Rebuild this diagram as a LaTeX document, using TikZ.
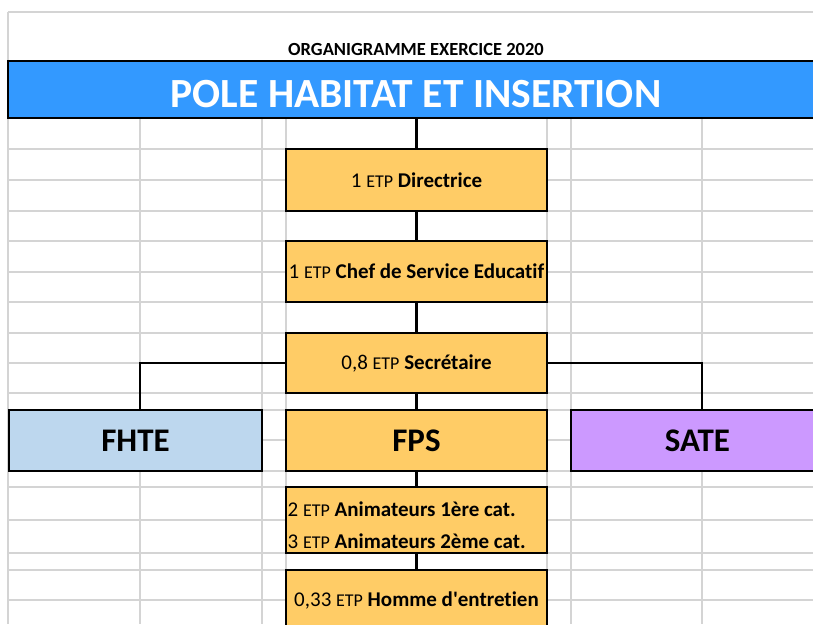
\documentclass[tikz,border=0pt]{standalone}
\usepackage{fontspec}
\setmainfont{Carlito}[Ligatures={NoCommon,TeXOff}]
\usepackage{tikz}
\definecolor{bleupole}{HTML}{3399FF}
\definecolor{jaune}{HTML}{FFCC66}
\definecolor{bleuclair}{HTML}{BDD7EE}
\definecolor{mauve}{HTML}{CC99FF}
\definecolor{gris}{HTML}{D4D4D4}
\newcommand{\etp}[1]{#1 {\fontsize{18}{21}\selectfont ETP}}

\begin{document}
\begin{tikzpicture}[x=1pt,y=-1pt,
   grille/.style={draw=gris,line width=1.1pt},
   cadre/.style={draw,line width=2pt,fill=jaune,minimum width=261pt,inner sep=1pt,font=\fontsize{21}{25}\selectfont},
   service/.style={draw,line width=2pt,minimum width=253pt,minimum height=61pt,inner sep=1pt,font=\bfseries\fontsize{33}{40}\selectfont},
   lien/.style={line width=2.4pt}]
\useasboundingbox (0,0) rectangle (813,624);
\clip (0,0) rectangle (813,624);
% grille de la feuille
\draw[grille] (8,12) -- (813,12);
\draw[grille] (8,12) -- (8,624);
\foreach \y in %
{149,180,211,241,272,302,333,363,393,410,440,471,487,520,553,570,600} {
   \draw[grille] (8,\y) -- (813,\y);
}
\foreach \x in %
{140,262,286,547,571,702} {
   \draw[grille] (\x,118) -- (\x,624);
}
\node[font=\bfseries\fontsize{18.5}{22}\selectfont] (exercice) at (416,49.5) {ORGANIGRAMME EXERCICE 2020};
\node[draw,line width=2.4pt,fill=bleupole,text=white,minimum width=816pt,minimum height=57pt,
   text height=35pt,text depth=0pt,font=\bfseries\fontsize{41.5}{50}\selectfont] (pole) at (416,89.5) {POLE HABITAT ET INSERTION};
\node[cadre,minimum height=62pt] (dir) at (416.5,180) {\etp{1} \textbf{Directrice}};
\node[cadre,minimum height=61pt] (chef) at (416.5,271.5) {\etp{1} \textbf{Chef de Service Educatif}};
\node[cadre,minimum height=60pt] (secr) at (416.5,363) {\etp{0,8} \textbf{Secrétaire}};
\node[service,fill=bleuclair] (fhte) at (135.5,440.5) {FHTE};
\node[service,fill=jaune,minimum width=261pt] (fps) at (416.5,440.5) {FPS};
\node[service,fill=mauve] (sate) at (697.5,440.5) {SATE};
\node[cadre,minimum height=66pt] (anim) at (416.5,520) {};
\node[font=\fontsize{21}{25}\selectfont,inner sep=0pt,anchor=west] (anim1) at ([xshift=2.5pt,yshift=11pt]anim.west) {\etp{2} \textbf{Animateurs 1ère cat.}};
\node[font=\fontsize{21}{25}\selectfont,inner sep=0pt,anchor=west] (anim2) at ([xshift=2.5pt,yshift=-21pt]anim.west) {\etp{3} \textbf{Animateurs 2ème cat.}};
\node[cadre,minimum height=61pt] (homme) at (416.5,600.5) {\etp{0,33} \textbf{Homme d'entretien}};
% liaisons
\draw[lien] (pole.south -| dir.north) -- (dir.north);
\draw[lien] (dir) -- (chef);
\draw[lien] (chef) -- (secr);
\draw[lien] (secr) -- (fps);
\draw[lien] (fps) -- (anim);
\draw[lien] (anim) -- (homme);
\draw[lien] (secr.west) -| ([xshift=4.5pt]fhte.north);
\draw[lien] (secr.east) -| ([xshift=4.5pt]sate.north);
\end{tikzpicture}
\end{document}
